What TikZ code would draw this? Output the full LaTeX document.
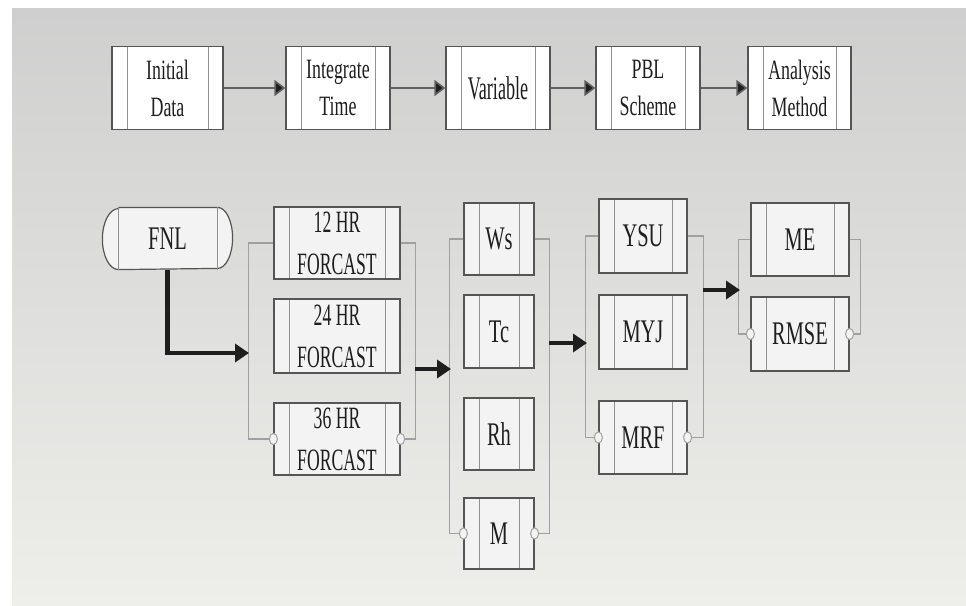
\documentclass[tikz,border=0pt]{standalone}
\usepackage{fontspec}
\setmainfont{Liberation Serif}[FakeStretch=0.64]
\newfontfamily\labelfont{Liberation Serif}[FakeStretch=0.62]
\newfontfamily\forcastfont{Liberation Serif}[FakeStretch=0.57]
\newfontfamily\varfont{Liberation Serif}[FakeStretch=0.55]
\usetikzlibrary{arrows.meta}

\definecolor{inkc}{RGB}{30,30,30}
\definecolor{edgec}{RGB}{85,85,85}
\definecolor{rulec}{RGB}{145,145,145}
\definecolor{wirec}{RGB}{160,160,160}
\definecolor{paperTop}{RGB}{207,207,207}
\definecolor{paperBot}{RGB}{238,238,234}
\definecolor{boxfill}{RGB}{243,243,243}

\pgfdeclarelayer{paper}
\pgfdeclarelayer{outline}
\pgfsetlayers{paper,outline,main}

\tikzset{
  innerrules/.style={
    path picture={
      \draw[rulec, line width=0.5pt]
        ([xshift=7.5pt]path picture bounding box.north west) --
        ([xshift=7.5pt]path picture bounding box.south west)
        ([xshift=-7.5pt]path picture bounding box.north east) --
        ([xshift=-7.5pt]path picture bounding box.south east);
    }},
  procbox/.style={draw=edgec, line width=0.6pt, fill=boxfill, inner sep=0pt,
    align=center, text=inkc, font={\labelfont\fontsize{16.5}{20}\selectfont},
    innerrules},
  fcbox/.style={procbox, minimum width=63pt,
    font={\forcastfont\fontsize{15.5}{21}\selectfont}},
  topbox/.style={procbox, fill=white, minimum height=41.5pt,
    font={\fontsize{14}{18.5}\selectfont}},
  wire/.style={draw=wirec, line width=0.6pt},
  ring/.style={draw=wirec, line width=0.5pt, fill=boxfill, circle,
    minimum size=4pt, inner sep=0pt, yscale=1.4},
  thinarrow/.style={draw=gray!75!black, line width=0.8pt,
    -{Triangle[length=5.5pt,width=8pt,fill=inkc]}},
  bigarrow/.style={draw=inkc, line width=2.1pt,
    -{Triangle[length=7pt,width=9pt]}},
}

\begin{document}
\begin{tikzpicture}[x=0.5pt,y=-0.5pt]
  % paper
  \useasboundingbox (0,0) rectangle (966,606);
  \begin{pgfonlayer}{paper}
    \fill[white] (0,0) rectangle (966,606);
    \shade[top color=paperTop, bottom color=paperBot] (12,8) rectangle (966,606);
  \end{pgfonlayer}

  % top row: processing chain
  \node[topbox, minimum width=55.5pt] (init) at (167.5,88) {Initial\\Data};
  \node[topbox, minimum width=52pt]   (itime) at (338,88) {Integrate\\Time};
  \node[topbox, minimum width=52pt, font={\varfont\fontsize{16.5}{20}\selectfont}]
        (var) at (498,88) {Variable};
  \node[topbox, minimum width=52pt]   (pbl) at (648,88) {PBL\\Scheme};
  \node[topbox, minimum width=51.5pt] (ana) at (799.5,88) {Analysis\\Method};

  \draw[thinarrow] (init) -- (itime);
  \draw[thinarrow] (itime) -- (var);
  \draw[thinarrow] (var) -- (pbl);
  \draw[thinarrow] (pbl) -- (ana);

  % data source: a box with elliptical end caps
  \node[procbox, draw=none, fill=none, path picture={}, minimum width=64.5pt,
        minimum height=30.5pt] (fnl) at (167.5,238.5) {FNL};
  \begin{pgfonlayer}{outline}
    \draw[edgec, line width=0.6pt, fill=boxfill]
      ([xshift=8pt]fnl.north west) -- ([xshift=-7.5pt]fnl.north east)
      arc[start angle=90, end angle=-90, x radius=7.5pt, y radius=15.25pt]
      -- ([xshift=8pt]fnl.south west)
      arc[start angle=270, end angle=90, x radius=8pt, y radius=15.25pt]
      -- cycle;
    \draw[rulec, line width=0.5pt]
      ([xshift=8pt]fnl.north west) -- ([xshift=8pt]fnl.south west)
      ([xshift=-7.5pt]fnl.north east) -- ([xshift=-7.5pt]fnl.south east);
  \end{pgfonlayer}

  % forecast lengths
  \node[fcbox, minimum height=36pt] (f12) at (337,243) {12 HR\\FORCAST};
  \node[fcbox, minimum height=37pt] (f24) at (337,336) {24 HR\\FORCAST};
  \node[fcbox, minimum height=36pt] (f36) at (337,439) {36 HR\\FORCAST};

  % variables
  \node[procbox, minimum width=35pt, minimum height=36pt] (ws) at (499,239) {Ws};
  \node[procbox, minimum width=35pt, minimum height=36.5pt] (tc) at (499,331.5) {Tc};
  \node[procbox, minimum width=35pt, minimum height=36pt] (rh) at (499,434) {Rh};
  \node[procbox, minimum width=35pt, minimum height=35.5pt] (mm) at (499,533.5) {M};

  % PBL schemes
  \node[procbox, minimum width=44pt, minimum height=37pt] (ysu) at (643,236) {YSU};
  \node[procbox, minimum width=44pt, minimum height=37pt] (myj) at (643,332) {MYJ};
  \node[procbox, minimum width=44pt, minimum height=36.5pt] (mrf) at (643,437.5) {MRF};

  % analysis methods
  \node[procbox, minimum width=49pt, minimum height=36.5pt] (me) at (800,239.5) {ME};
  \node[procbox, minimum width=49pt, minimum height=37pt] (rmse) at (800,334) {RMSE};

  % group brackets
  \draw[wire] (f12.west) -- ++(-25,0) |- (f36.west);
  \draw[wire] (f12.east) -- ++(15,0) |- (f36.east);
  \draw[wire] (ws.west) -- ++(-14,0) |- (mm.west);
  \draw[wire] (ws.east) -- ++(15,0) |- (mm.east);
  \draw[wire] (ysu.west) -- ++(-13,0) |- (mrf.west);
  \draw[wire] (ysu.east) -- ++(16,0) |- (mrf.east);
  \draw[wire] (me.west) -- ++(-12,0) |- (rmse.west);
  \draw[wire] (me.east) -- ++(11,0) |- (rmse.east);

  \node[ring] (r1) at (f36.west) {};
  \node[ring] (r2) at (f36.east) {};
  \node[ring] (r3) at (mm.west) {};
  \node[ring] (r4) at (mm.east) {};
  \node[ring] (r5) at (mrf.west) {};
  \node[ring] (r6) at (mrf.east) {};
  \node[ring] (r7) at (rmse.west) {};
  \node[ring] (r8) at (rmse.east) {};

  % bracket entry and exit points
  \coordinate (fcin)  at (249,353);
  \coordinate (fcout) at (415,369);
  \coordinate (vin)   at (451,369);
  \coordinate (vout)  at (549,343);
  \coordinate (pin)   at (587,343);
  \coordinate (pout)  at (703,290);
  \coordinate (ain)   at (740,290);

  \draw[bigarrow] (fnl.south) |- (fcin);
  \draw[bigarrow] (fcout) -- (vin);
  \draw[bigarrow] (vout) -- (pin);
  \draw[bigarrow] (pout) -- (ain);
\end{tikzpicture}
\end{document}
